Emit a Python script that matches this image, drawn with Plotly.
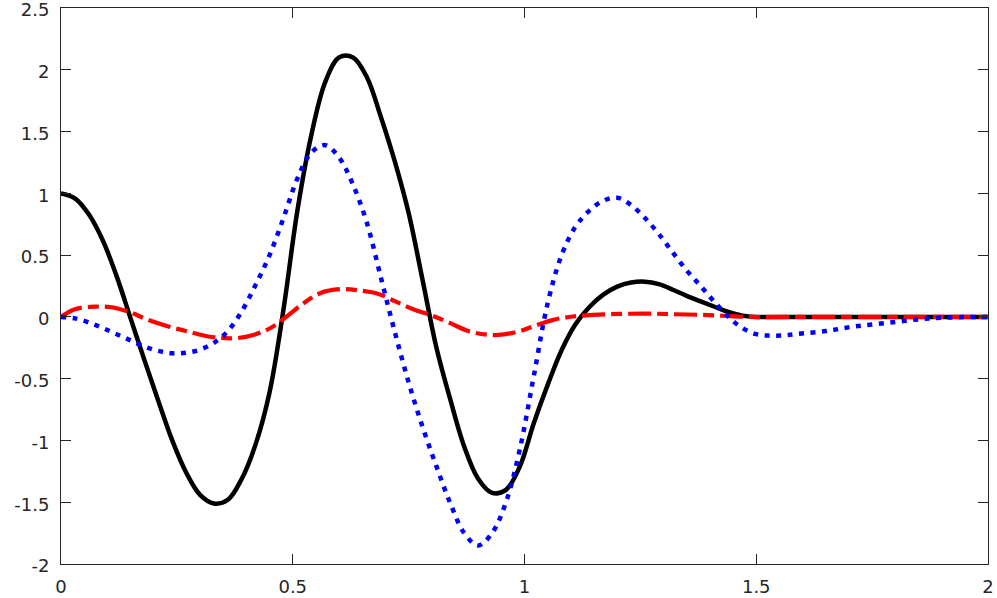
import plotly.graph_objects as go

# Black solid curve
black_x = [0.00, 0.03, 0.06, 0.09, 0.12, 0.15, 0.18, 0.21, 0.24, 0.27, 0.30, 0.33, 0.36, 0.39,
           0.42, 0.45, 0.48, 0.51, 0.54, 0.57, 0.60, 0.63, 0.66, 0.69, 0.72, 0.75, 0.78, 0.81,
           0.84, 0.87, 0.90, 0.93, 0.96, 0.99, 1.02, 1.05, 1.08, 1.11, 1.14, 1.17, 1.20, 1.23,
           1.26, 1.29, 1.32, 1.35, 1.38, 1.41, 1.44, 1.47, 1.50, 1.53, 2.00]
black_y = [1.00, 0.96, 0.83, 0.62, 0.33, -0.01, -0.35, -0.68, -1.00, -1.26, -1.44, -1.51, -1.48, -1.31,
           -1.03, -0.61, 0.06, 0.86, 1.47, 1.90, 2.10, 2.10, 1.94, 1.62, 1.26, 0.84, 0.30, -0.25,
           -0.67, -1.05, -1.31, -1.425, -1.40, -1.21, -0.86, -0.55, -0.27, -0.06, 0.08, 0.18, 0.245, 0.278,
           0.285, 0.265, 0.22, 0.17, 0.125, 0.082, 0.04, 0.01, 0.0, 0.0, 0.0]

# Red dash-dot curve
red_x = [0.0, 0.030, 0.073, 0.109, 0.145, 0.188, 0.232, 0.275, 0.318, 0.350, 0.379, 0.415, 0.451,
         0.487, 0.523, 0.559, 0.602, 0.645, 0.685, 0.720, 0.760, 0.800, 0.840, 0.882, 0.926, 0.955,
         0.990, 1.020, 1.062, 1.105, 1.148, 1.206, 1.264, 1.314, 1.386, 1.436, 1.48, 1.6, 1.8, 2.0]
red_y = [0.0, 0.062, 0.083, 0.078, 0.043, -0.024, -0.078, -0.119, -0.159, -0.170, -0.172, -0.146, -0.092,
         0.003, 0.11, 0.192, 0.224, 0.213, 0.186, 0.128, 0.062, 0.012, -0.051, -0.119, -0.146, -0.142,
         -0.115, -0.075, -0.024, 0.003, 0.016, 0.024, 0.027, 0.022, 0.016, 0.008, 0.0, 0.0, 0.0, 0.0]

# Blue dotted curve
blue_x = [0.00, 0.03, 0.06, 0.09, 0.12, 0.15, 0.18, 0.21, 0.24, 0.27, 0.30, 0.33, 0.36, 0.39,
          0.42, 0.45, 0.48, 0.51, 0.54, 0.57, 0.60, 0.63, 0.66, 0.69, 0.72, 0.75, 0.78, 0.81,
          0.84, 0.87, 0.90, 0.93, 0.96, 0.99, 1.02, 1.05, 1.08, 1.11, 1.14, 1.17, 1.20, 1.23,
          1.26, 1.29, 1.32, 1.35, 1.38, 1.41, 1.44, 1.47, 1.50, 1.53, 1.56, 1.59, 1.65, 1.71,
          1.78, 1.85, 1.92, 2.00]
blue_y = [0.0, -0.012, -0.045, -0.09, -0.14, -0.19, -0.24, -0.275, -0.295, -0.29, -0.265, -0.21, -0.115, 0.045,
          0.26, 0.50, 0.80, 1.12, 1.33, 1.39, 1.29, 1.07, 0.76, 0.32, -0.12, -0.53, -0.89, -1.21,
          -1.51, -1.75, -1.85, -1.75, -1.50, -1.07, -0.48, 0.11, 0.50, 0.73, 0.86, 0.94, 0.965, 0.905,
          0.80, 0.67, 0.52, 0.375, 0.25, 0.12, 0.0, -0.09, -0.14, -0.152, -0.15, -0.138, -0.115, -0.078,
          -0.05, -0.02, -0.004, 0.0]

x_ticks = [0, 0.5, 1, 1.5, 2]
x_tick_labels = ["0", "0.5", "1", "1.5", "2"]
y_ticks = [-2, -1.5, -1, -0.5, 0, 0.5, 1, 1.5, 2, 2.5]
y_tick_labels = ["-2", "-1.5", "-1", "-0.5", "0", "0.5", "1", "1.5", "2", "2.5"]

fig = go.Figure()
fig.add_trace(go.Scatter(x=black_x, y=black_y, mode="lines",
                         line=dict(color="#000000", width=4.5, shape="spline", smoothing=1.0)))
fig.add_trace(go.Scatter(x=red_x, y=red_y, mode="lines",
                         line=dict(color="#FF0000", width=4.2, shape="spline", smoothing=1.0,
                                   dash="23px,6px,11px,6px")))
fig.add_trace(go.Scatter(x=blue_x, y=blue_y, mode="lines",
                         line=dict(color="#0000FF", width=4.5, shape="spline", smoothing=1.0,
                                   dash="5px,6.5px")))

axis_common = dict(showgrid=False, zeroline=False, showline=True, linecolor="#262626", linewidth=1,
                   mirror="ticks", ticks="inside", ticklen=10, tickwidth=1, tickcolor="#262626",
                   automargin=False, ticklabeloverflow="allow",
                   tickfont=dict(family="DejaVu Sans, sans-serif", size=18, color="#262626"))

fig.update_layout(
    width=997, height=598,
    margin=dict(l=61, r=9, t=8, b=34),
    plot_bgcolor="white", paper_bgcolor="white",
    showlegend=False,
    xaxis=dict(range=[0, 2], tickvals=x_ticks, ticktext=x_tick_labels, ticklabelstandoff=6, **axis_common),
    yaxis=dict(range=[-2, 2.5], tickvals=y_ticks, ticktext=y_tick_labels, ticklabelstandoff=7,
               ticklabelshift=2, **axis_common),
)

fig.write_html("out.html", config={"displayModeBar": False, "staticPlot": True},
               post_script="document.body.style.margin='0';document.body.style.overflow='hidden';")
